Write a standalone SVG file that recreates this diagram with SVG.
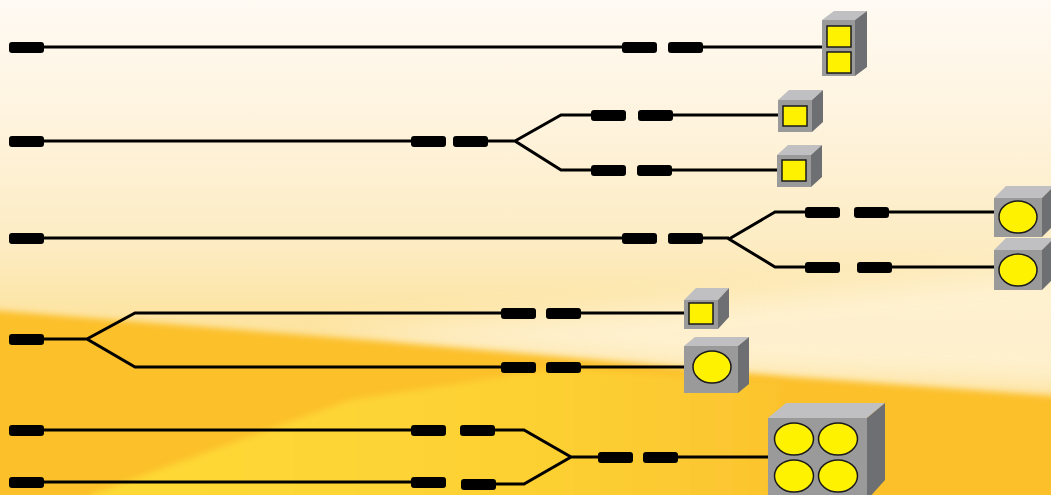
<svg xmlns="http://www.w3.org/2000/svg" width="1051" height="495" viewBox="0 0 1051 495">
<defs>
<linearGradient id="bg" x1="0" y1="0" x2="0" y2="1">
<stop offset="0" stop-color="#fffaf3"/>
<stop offset="0.25" stop-color="#fef3dd"/>
<stop offset="0.5" stop-color="#fdecc2"/>
<stop offset="0.62" stop-color="#fde5a6"/>
<stop offset="1" stop-color="#fcd77a"/>
</linearGradient>
<linearGradient id="yel" x1="150" y1="0" x2="820" y2="0" gradientUnits="userSpaceOnUse">
<stop offset="0" stop-color="#fed936"/>
<stop offset="0.6" stop-color="#fdd033"/>
<stop offset="1" stop-color="#fcc22e"/>
</linearGradient>
<filter id="blur" x="-20%" y="-50%" width="140%" height="200%"><feGaussianBlur stdDeviation="14"/></filter>
<filter id="soft" x="-5%" y="-20%" width="110%" height="140%"><feGaussianBlur stdDeviation="3"/></filter>
<style>
.ln{stroke:#000;stroke-width:3;fill:none;stroke-linejoin:miter}
.pl{fill:#000}
.fr{fill:#9a9a9b}
.tp{fill:#c0c0c2}
.sd{fill:#6e6f73}
.y{fill:#fff200;stroke:#1a1a1a;stroke-width:1.5}
</style>
</defs>
<g id="background">
<rect x="0" y="0" width="1051" height="495" fill="url(#bg)"/>
<polygon points="320,335 1100,265 1100,390 780,376 380,341" fill="#fff4da" opacity="0.8" filter="url(#blur)"/>
<polygon points="-60,306 380,341 780,376 1120,401 1120,560 -60,560" fill="#fcc02c" filter="url(#soft)"/>
<polygon points="70,560 90,495 350,400 560,368 780,382 760,560" fill="url(#yel)" filter="url(#soft)"/>
</g>
<g id="connectors">
<path class="ln" d="M44,47 H622 M702,47 H822"/>
<path class="ln" d="M44,141 H411 M488,141 H515 M591,115 H561 L515,141 L561,170 H591 M673,115 H778 M672,170 H777"/>
<path class="ln" d="M44,238 H622 M702,238 H729 M805,212 H775 L729,239 L775,267 H805 M889,212 H994 M892,267 H994"/>
<path class="ln" d="M44,339 H87 M501,313 H135 L87,339 L135,367 H501 M580,313 H684 M580,367 H684"/>
<path class="ln" d="M44,430 H411 M44,482 H411 M495,430 H524 L571,457 L524,484 H496 M571,457 H598 M678,457 H768"/>
</g>
<g id="plugs">
<rect class="pl" x="9" y="42" width="35" height="11" rx="3"/>
<rect class="pl" x="622" y="42" width="35" height="11" rx="3"/>
<rect class="pl" x="668" y="42" width="35" height="11" rx="3"/>
<rect class="pl" x="9" y="136" width="35" height="11" rx="3"/>
<rect class="pl" x="411" y="136" width="35" height="11" rx="3"/>
<rect class="pl" x="453" y="136" width="35" height="11" rx="3"/>
<rect class="pl" x="591" y="110" width="35" height="11" rx="3"/>
<rect class="pl" x="638" y="110" width="35" height="11" rx="3"/>
<rect class="pl" x="591" y="165" width="35" height="11" rx="3"/>
<rect class="pl" x="637" y="165" width="35" height="11" rx="3"/>
<rect class="pl" x="9" y="233" width="35" height="11" rx="3"/>
<rect class="pl" x="622" y="233" width="35" height="11" rx="3"/>
<rect class="pl" x="668" y="233" width="35" height="11" rx="3"/>
<rect class="pl" x="805" y="207" width="35" height="11" rx="3"/>
<rect class="pl" x="854" y="207" width="35" height="11" rx="3"/>
<rect class="pl" x="805" y="262" width="35" height="11" rx="3"/>
<rect class="pl" x="857" y="262" width="35" height="11" rx="3"/>
<rect class="pl" x="9" y="334" width="35" height="11" rx="3"/>
<rect class="pl" x="501" y="308" width="35" height="11" rx="3"/>
<rect class="pl" x="546" y="308" width="35" height="11" rx="3"/>
<rect class="pl" x="501" y="362" width="35" height="11" rx="3"/>
<rect class="pl" x="546" y="362" width="35" height="11" rx="3"/>
<rect class="pl" x="9" y="425" width="35" height="11" rx="3"/>
<rect class="pl" x="411" y="425" width="35" height="11" rx="3"/>
<rect class="pl" x="460" y="425" width="35" height="11" rx="3"/>
<rect class="pl" x="9" y="477" width="35" height="11" rx="3"/>
<rect class="pl" x="411" y="477" width="35" height="11" rx="3"/>
<rect class="pl" x="461" y="479" width="35" height="11" rx="3"/>
<rect class="pl" x="598" y="452" width="35" height="11" rx="3"/>
<rect class="pl" x="643" y="452" width="35" height="11" rx="3"/>
</g>
<g id="device1">
<polygon class="tp" points="822,20 834,11 867,11 855,20"/>
<polygon class="sd" points="855,20 867,11 867,67 855,76"/>
<rect class="fr" x="822" y="20" width="33" height="56"/>
<rect class="y" x="827" y="26" width="24" height="21"/>
<rect class="y" x="827" y="52" width="24" height="21"/>
</g>
<g id="device2">
<polygon class="tp" points="778,100 789,90 823,90 812,100"/>
<polygon class="sd" points="812,100 823,90 823,122 812,132"/>
<rect class="fr" x="778" y="100" width="34" height="32"/>
<rect class="y" x="783" y="106" width="24" height="20"/>
</g>
<g id="device3">
<polygon class="tp" points="777,155 788,145 822,145 811,155"/>
<polygon class="sd" points="811,155 822,145 822,177 811,187"/>
<rect class="fr" x="777" y="155" width="34" height="32"/>
<rect class="y" x="782" y="160" width="24" height="21"/>
</g>
<g id="device4">
<polygon class="tp" points="994,198 1006,186 1054,186 1042,198"/>
<polygon class="sd" points="1042,198 1054,186 1054,225 1042,237"/>
<rect class="fr" x="994" y="198" width="48" height="39"/>
<ellipse class="y" cx="1018" cy="217" rx="19" ry="16"/>
</g>
<g id="device5">
<polygon class="tp" points="994,250 1006,238 1054,238 1042,250"/>
<polygon class="sd" points="1042,250 1054,238 1054,278 1042,290"/>
<rect class="fr" x="994" y="250" width="48" height="40"/>
<ellipse class="y" cx="1018" cy="270" rx="19" ry="16"/>
</g>
<g id="device6">
<polygon class="tp" points="684,300 696,288 729,288 718,300"/>
<polygon class="sd" points="718,300 729,288 729,317 718,329"/>
<rect class="fr" x="684" y="300" width="34" height="29"/>
<rect class="y" x="689" y="303" width="24" height="21"/>
</g>
<g id="device7">
<polygon class="tp" points="684,346 695,337 749,337 738,346"/>
<polygon class="sd" points="738,346 749,337 749,384 738,393"/>
<rect class="fr" x="684" y="346" width="54" height="47"/>
<ellipse class="y" cx="712" cy="367" rx="19" ry="16"/>
</g>
<g id="device8">
<polygon class="tp" points="768,418 786,403 885,403 867,418"/>
<polygon class="sd" points="867,418 885,403 885,480 867,500"/>
<rect class="fr" x="768" y="418" width="99" height="82"/>
<ellipse class="y" cx="794" cy="439" rx="19.5" ry="16"/>
<ellipse class="y" cx="838" cy="439" rx="19.5" ry="16"/>
<ellipse class="y" cx="794" cy="476" rx="19.5" ry="16"/>
<ellipse class="y" cx="838" cy="476" rx="19.5" ry="16"/>
</g>
</svg>
